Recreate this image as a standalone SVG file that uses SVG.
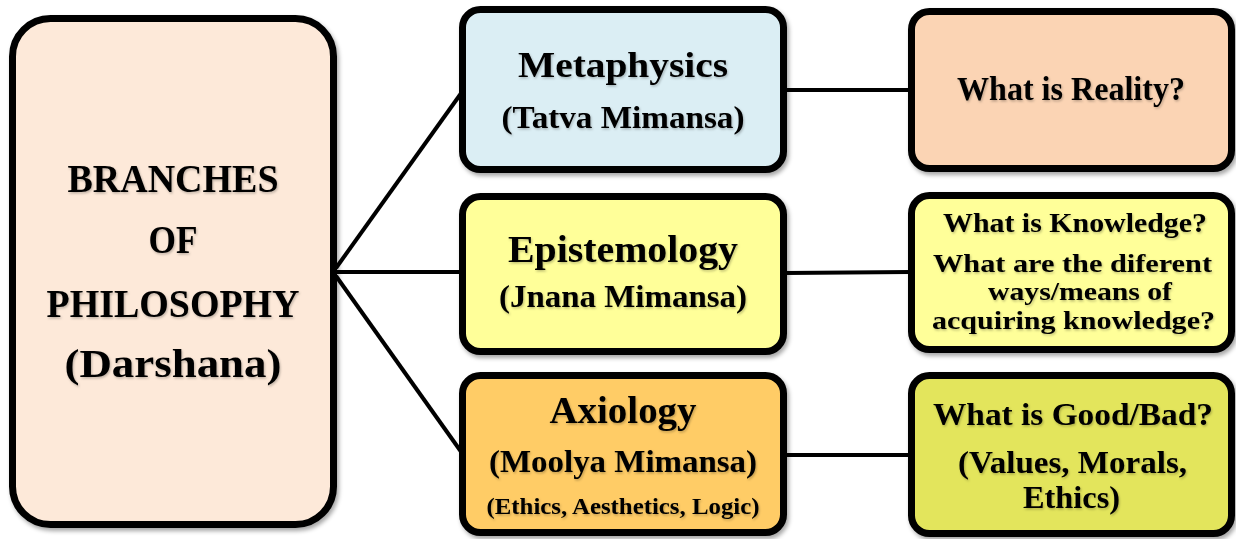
<svg xmlns="http://www.w3.org/2000/svg" width="1236" height="539" viewBox="0 0 1236 539">
<defs>
<filter id="bs" x="-10%" y="-10%" width="125%" height="125%">
<feDropShadow dx="2" dy="3" stdDeviation="2" flood-color="#000" flood-opacity="0.35"/>
</filter>
<filter id="ts" x="-5%" y="-20%" width="110%" height="150%">
<feDropShadow dx="1" dy="1.5" stdDeviation="0.8" flood-color="#000" flood-opacity="0.25"/>
</filter>
</defs>
<style>
.box{stroke:#000;stroke-width:7}
.t{font-family:"Liberation Serif","Times New Roman",serif;font-weight:bold;fill:#000;text-anchor:middle}
.conn{stroke:#000;stroke-width:4;fill:none;stroke-linecap:butt}
</style>
<rect width="1236" height="539" fill="#fff"/>
<g id="connectors">
<line class="conn" x1="336" y1="268" x2="462" y2="92"/>
<line class="conn" x1="336" y1="272" x2="462" y2="272"/>
<line class="conn" x1="336" y1="276" x2="462" y2="453"/>
<line class="conn" x1="785" y1="90" x2="910" y2="90"/>
<line class="conn" x1="785" y1="273" x2="910" y2="272"/>
<line class="conn" x1="785" y1="455" x2="910" y2="455"/>
</g>
<g id="main">
<rect class="box" x="12.5" y="18.5" width="321" height="506" rx="38" fill="#FDE9D9" filter="url(#bs)"/>
<g class="t" filter="url(#ts)" font-size="41">
<text x="173" y="192" textLength="211" lengthAdjust="spacingAndGlyphs">BRANCHES</text>
<text x="173" y="253" textLength="49" lengthAdjust="spacingAndGlyphs">OF</text>
<text x="173" y="317" textLength="253" lengthAdjust="spacingAndGlyphs">PHILOSOPHY</text>
<text x="173" y="377" textLength="217" lengthAdjust="spacingAndGlyphs">(Darshana)</text>
</g>
</g>
<g id="metaphysics">
<rect class="box" x="462.5" y="9.5" width="321" height="160" rx="18" fill="#DBEEF4" filter="url(#bs)"/>
<g class="t" filter="url(#ts)">
<text x="623" y="77" font-size="36" textLength="210" lengthAdjust="spacingAndGlyphs">Metaphysics</text>
<text x="623" y="128" font-size="31" textLength="243" lengthAdjust="spacingAndGlyphs">(Tatva Mimansa)</text>
</g>
</g>
<g id="epistemology">
<rect class="box" x="462.5" y="196.5" width="321" height="155" rx="18" fill="#FFFF99" filter="url(#bs)"/>
<g class="t" filter="url(#ts)">
<text x="623" y="262" font-size="37" textLength="230" lengthAdjust="spacingAndGlyphs">Epistemology</text>
<text x="623" y="307" font-size="31" textLength="248" lengthAdjust="spacingAndGlyphs">(Jnana Mimansa)</text>
</g>
</g>
<g id="axiology">
<rect class="box" x="462.5" y="375.5" width="321" height="157" rx="18" fill="#FFCC66" filter="url(#bs)"/>
<g class="t" filter="url(#ts)">
<text x="623" y="423" font-size="37" textLength="147" lengthAdjust="spacingAndGlyphs">Axiology</text>
<text x="623" y="472" font-size="31" textLength="268" lengthAdjust="spacingAndGlyphs">(Moolya Mimansa)</text>
<text x="623" y="514" font-size="23" textLength="273" lengthAdjust="spacingAndGlyphs">(Ethics, Aesthetics, Logic)</text>
</g>
</g>
<g id="reality">
<rect class="box" x="911.5" y="11.5" width="320" height="157" rx="18" fill="#FBD4B4" filter="url(#bs)"/>
<g class="t" filter="url(#ts)">
<text x="1071" y="100" font-size="33" textLength="228" lengthAdjust="spacingAndGlyphs">What is Reality?</text>
</g>
</g>
<g id="knowledge">
<rect class="box" x="911.5" y="195.5" width="320" height="154" rx="18" fill="#FFFF99" filter="url(#bs)"/>
<g class="t" filter="url(#ts)" font-size="25">
<text x="1075" y="232" font-size="27" textLength="264" lengthAdjust="spacingAndGlyphs">What is Knowledge?</text>
<text x="1072.5" y="272" textLength="279" lengthAdjust="spacingAndGlyphs">What are the diferent</text>
<text x="1080" y="300" textLength="184" lengthAdjust="spacingAndGlyphs">ways/means of</text>
<text x="1073.5" y="329" textLength="283" lengthAdjust="spacingAndGlyphs">acquiring knowledge?</text>
</g>
</g>
<g id="goodbad">
<rect class="box" x="911.5" y="375.5" width="320" height="158" rx="18" fill="#E3E55C" filter="url(#bs)"/>
<g class="t" filter="url(#ts)" font-size="31">
<text x="1073" y="425" font-size="32" textLength="280" lengthAdjust="spacingAndGlyphs">What is Good/Bad?</text>
<text x="1072.5" y="473" textLength="229" lengthAdjust="spacingAndGlyphs">(Values, Morals,</text>
<text x="1071.5" y="508" textLength="97" lengthAdjust="spacingAndGlyphs">Ethics)</text>
</g>
</g>
</svg>
